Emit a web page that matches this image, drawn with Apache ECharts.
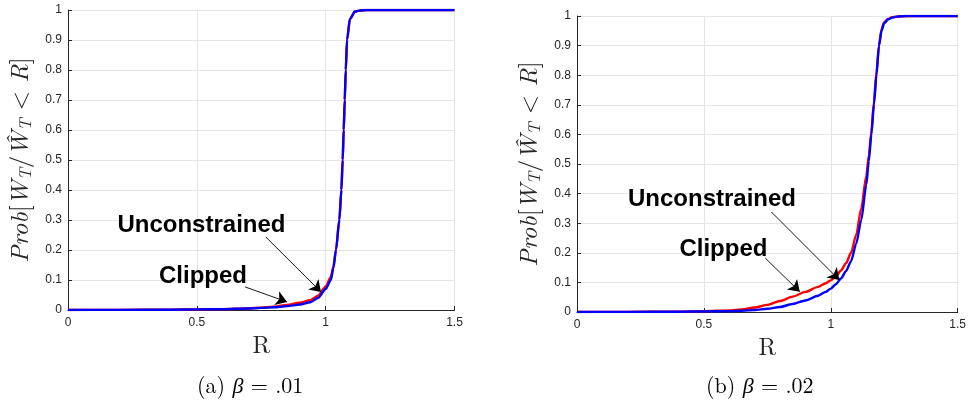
<!DOCTYPE html>
<html>
<head>
<meta charset="utf-8">
<script src="https://cdn.jsdelivr.net/npm/echarts@6/dist/echarts.min.js"></script>
<style>html,body{margin:0;padding:0;background:#fff}#c{width:969px;height:402px}</style>
</head>
<body>
<div id="c"></div>
<script>
// ---------- data ----------
// panel (a) beta = .01
const rA = [0, 0.2, 0.4, 0.5, 0.6, 0.7, 0.75, 0.8, 0.85, 0.9, 0.94, 0.97, 1.0, 1.02, 1.03, 1.04, 1.053, 1.061, 1.066, 1.07, 1.074, 1.078, 1.083, 1.094, 1.114, 1.13, 1.16, 1.2, 1.3, 1.5];
const clippedA = [0, 0.0005, 0.001, 0.002, 0.003, 0.005, 0.008, 0.011, 0.017, 0.024, 0.033, 0.048, 0.078, 0.11, 0.145, 0.2, 0.3, 0.4, 0.5, 0.6, 0.7, 0.8, 0.9, 0.97, 0.995, 0.998, 1, 1, 1, 1];
const unconA   = [0, 0.0005, 0.001, 0.002, 0.003, 0.005, 0.007, 0.009, 0.013, 0.018, 0.026, 0.04, 0.07, 0.1, 0.14, 0.2, 0.3, 0.4, 0.5, 0.6, 0.7, 0.8, 0.9, 0.97, 0.995, 0.998, 1, 1, 1, 1];
// panel (b) beta = .02
const rB = [0, 0.2, 0.4, 0.5, 0.6, 0.65, 0.7, 0.75, 0.8, 0.85, 0.9, 0.95, 0.98, 1.0, 1.02, 1.04, 1.06, 1.08, 1.1, 1.12, 1.14, 1.15, 1.16, 1.17, 1.18, 1.19, 1.2, 1.21, 1.225, 1.24, 1.26, 1.3, 1.5];
const clippedB = [0, 0.0005, 0.001, 0.003, 0.005, 0.009, 0.015, 0.024, 0.037, 0.052, 0.068, 0.085, 0.097, 0.107, 0.12, 0.14, 0.165, 0.2, 0.26, 0.35, 0.46, 0.53, 0.61, 0.71, 0.81, 0.9, 0.955, 0.978, 0.99, 0.995, 0.998, 1, 1];
const unconB   = [0, 0.0005, 0.001, 0.002, 0.003, 0.004, 0.007, 0.011, 0.017, 0.027, 0.039, 0.055, 0.068, 0.079, 0.094, 0.113, 0.138, 0.172, 0.23, 0.31, 0.43, 0.51, 0.6, 0.7, 0.8, 0.9, 0.95, 0.975, 0.988, 0.994, 0.998, 1, 1];

const xTicks = [0, 0.5, 1, 1.5];
const yTicks = [0, 0.1, 0.2, 0.3, 0.4, 0.5, 0.6, 0.7, 0.8, 0.9, 1];
const captions = ['(a)', '(b)'];
const betas = ['.01', '.02'];
const labelNames = ['Unconstrained', 'Clipped'];
// annotation anchors in data space [x, y]
const labelPosA = [[0.518, 0.283], [0.524, 0.113]];
const labelPosB = [[0.532, 0.380], [0.577, 0.213]];
const arrowsA = [[[0.768, 0.243], [0.982, 0.060]], [[0.687, 0.077], [0.850, 0.027]]];
const arrowsB = [[[0.766, 0.338], [1.034, 0.108]], [[0.742, 0.182], [0.878, 0.068]]];

// ---------- chart ----------
const pairs = (xs, ys) => xs.map((x, i) => [x, ys[i]]);
const TXT = '#262626';
const SERIF = '"Latin Modern Roman","Liberation Serif","DejaVu Serif",serif';
const SANS = '"Liberation Sans",Arial,Helvetica,sans-serif';

const yName = '{i|Prob}{n|[}{i|W}{s|T}{n|/}{i|Ŵ}{s|T}{n| < }{i|R}{n|]}';
const yNameStyle = {
  color: TXT,
  rich: {
    i: { fontFamily: SERIF, fontStyle: 'italic', fontSize: 25, color: TXT },
    n: { fontFamily: SERIF, fontSize: 25, color: TXT },
    s: { fontFamily: SERIF, fontStyle: 'italic', fontSize: 17, color: TXT, verticalAlign: 'bottom', padding: [10, 0, 0, 0] }
  }
};

function xAxis(gi) {
  return {
    gridIndex: gi, type: 'value', min: 0, max: 1.5, interval: 0.5,
    name: 'R', nameLocation: 'middle', nameGap: 24,
    nameTextStyle: { fontFamily: SERIF, fontSize: 24, color: TXT },
    axisLine: { show: true, onZero: false, lineStyle: { color: TXT, width: 1 } },
    axisTick: { show: true, inside: true, length: 4, lineStyle: { color: TXT } },
    axisLabel: { fontFamily: SANS, fontSize: 12, color: TXT, margin: 7,
      formatter: v => xTicks.indexOf(v) >= 0 ? String(v) : '' },
    splitLine: { show: true, lineStyle: { color: '#e5e5e5', width: 1 } }
  };
}
function yAxis(gi) {
  return {
    gridIndex: gi, type: 'value', min: 0, max: 1, interval: 0.1,
    name: yName, nameLocation: 'middle', nameGap: 34, nameRotate: 90,
    nameTextStyle: yNameStyle,
    axisLine: { show: true, lineStyle: { color: TXT, width: 1 } },
    axisTick: { show: true, inside: true, length: 4, lineStyle: { color: TXT } },
    axisLabel: { fontFamily: SANS, fontSize: 12, color: TXT, margin: 6,
      formatter: v => { const k = yTicks.find(t => Math.abs(t - v) < 1e-9); return k === undefined ? '' : String(k); } },
    splitLine: { show: true, lineStyle: { color: '#e5e5e5', width: 1 } }
  };
}
function curve(gi, data, color, z) {
  return {
    type: 'line', xAxisIndex: gi, yAxisIndex: gi, data: data, showSymbol: false, symbol: 'none',
    smooth: 0.25, smoothMonotone: 'x', lineStyle: { color: color, width: 2.4 }, itemStyle: { color: color }, z: z, silent: true
  };
}
function annot(gi, labelPos, arrows) {
  return {
    type: 'line', xAxisIndex: gi, yAxisIndex: gi, data: [], silent: true, z: 5,
    markPoint: {
      symbol: 'circle', symbolSize: 0, silent: true,
      label: { show: true, position: 'inside', fontFamily: SANS, fontWeight: 'bold', fontSize: 24, color: '#000',
        formatter: p => p.name },
      data: labelNames.map((n, i) => ({ name: n, coord: labelPos[i] }))
    },
    markLine: {
      silent: true, symbol: ['none', 'arrow'], symbolSize: 11, animation: false,
      label: { show: false },
      lineStyle: { color: '#000', width: 0.9, type: 'solid' },
      itemStyle: { color: '#000' },
      data: arrows.map(a => [{ coord: a[0] }, { coord: a[1] }])
    }
  };
}

const chart = echarts.init(document.getElementById('c'), null, { renderer: 'canvas' });
chart.setOption({
  animation: false,
  backgroundColor: '#fff',
  grid: [
    { left: 68, top: 10, width: 386.5, height: 300 },
    { left: 577, top: 16, width: 386, height: 296 }
  ],
  xAxis: [xAxis(0), xAxis(1)],
  yAxis: [yAxis(0), yAxis(1)],
  graphic: [0, 1].map(i => ({
    type: 'text', left: i === 0 ? 197 : 706, top: 375,
    style: {
      text: '{n|' + captions[i] + ' }{b|β}{n| = ' + betas[i] + '}',
      rich: {
        n: { fontFamily: SERIF, fontSize: 22, fill: '#000' },
        b: { fontFamily: SERIF, fontStyle: 'italic', fontSize: 22, fill: '#000' }
      }
    }
  })),
  series: [
    curve(0, pairs(rA, clippedA), '#ff0000', 2),
    curve(0, pairs(rA, unconA), '#0000ff', 3),
    curve(1, pairs(rB, clippedB), '#ff0000', 2),
    curve(1, pairs(rB, unconB), '#0000ff', 3),
    annot(0, labelPosA, arrowsA),
    annot(1, labelPosB, arrowsB)
  ]
});
</script>
</body>
</html>
